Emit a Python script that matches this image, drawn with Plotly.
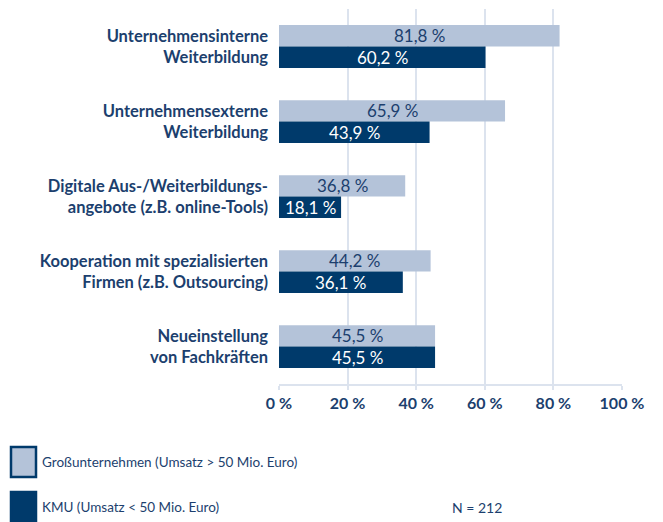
import plotly.graph_objects as go

categories = [
    "Unternehmensinterne<br>Weiterbildung",
    "Unternehmensexterne<br>Weiterbildung",
    "Digitale Aus-/Weiterbildungs-<br>angebote (z.B. online-Tools)",
    "Kooperation mit spezialisierten<br>Firmen (z.B. Outsourcing)",
    "Neueinstellung<br>von Fachkräften",
]
gross_values = [81.8, 65.9, 36.8, 44.2, 45.5]
kmu_values = [60.2, 43.9, 18.1, 36.1, 45.5]
series_names = ["Großunternehmen (Umsatz > 50 Mio. Euro)", "KMU (Umsatz < 50 Mio. Euro)"]
tick_vals = [0, 20, 40, 60, 80, 100]
tick_text = ["0 %", "20 %", "40 %", "60 %", "80 %", "100 %"]
note = "N = 212"

DARK = "#003a6b"
LIGHT = "#b4c3d9"
TXT = "#1c3f6e"
FONT = "Lato"

def fmt(v):
    return f"{v:.1f}".replace(".", ",") + " %"

fig = go.Figure()
fig.add_trace(go.Bar(
    y=categories, x=gross_values, orientation="h", name=series_names[0],
    marker=dict(color=LIGHT, line=dict(width=0)),
    showlegend=False, hoverinfo="skip",
))
fig.add_trace(go.Bar(
    y=categories, x=kmu_values, orientation="h", name=series_names[1],
    marker=dict(color=DARK, line=dict(width=0)),
    showlegend=False, hoverinfo="skip",
))

# value labels centred in the bars (annotations so text is not shrunk)
for cat, gv, kv in zip(categories, gross_values, kmu_values):
    fig.add_annotation(x=gv / 2, y=cat, text=fmt(gv), showarrow=False,
                       yshift=10.7, xanchor="center", yanchor="middle",
                       font=dict(size=17, color=TXT, family=FONT))
    fig.add_annotation(x=kv / 2, y=cat, text=fmt(kv), showarrow=False,
                       yshift=-10.7, xanchor="center", yanchor="middle",
                       font=dict(size=17, color="white", family=FONT))

# page body has an 8px margin; figure is sized so page coordinates match
fig.update_layout(
    width=655, height=514,
    margin=dict(l=271, r=41, t=1, b=138),
    paper_bgcolor="white", plot_bgcolor="white",
    barmode="group", bargap=0.43, bargroupgap=0,
    font=dict(family=FONT, color=TXT),
    xaxis=dict(
        range=[0, 100], tickvals=tick_vals, ticktext=tick_text,
        showgrid=True, gridcolor="#dce3ee", gridwidth=2,
        zeroline=False, showline=True, linecolor="#dce3ee", linewidth=2,
        ticks="outside", ticklen=4, tickcolor="#dce3ee", tickwidth=2,
        tickfont=dict(size=16, color=TXT, family=FONT, weight="bold"),
        fixedrange=True,
    ),
    yaxis=dict(
        autorange="reversed", showgrid=False, zeroline=False, showline=False,
        ticks="", ticklabelstandoff=10,
        tickfont=dict(size=16.5, color=TXT, family=FONT, weight="bold"),
        fixedrange=True,
    ),
)

def px_x(p):
    return (p - 279) / 343

def px_y(p):
    return (384 - p) / 375

legend_items = [(LIGHT, series_names[0], 462), (DARK, series_names[1], 507)]
for color, name, yc in legend_items:
    fig.add_shape(type="rect", xref="paper", yref="paper",
                  x0=px_x(11), x1=px_x(36),
                  y0=px_y(yc + 15), y1=px_y(yc - 15),
                  fillcolor=color, line=dict(color=DARK, width=2.5))
    fig.add_annotation(xref="paper", yref="paper",
                       x=px_x(40), y=px_y(yc),
                       text=name, showarrow=False, xanchor="left", yanchor="middle",
                       font=dict(size=13.5, color=TXT, family=FONT))
fig.add_annotation(xref="paper", yref="paper",
                   x=px_x(504), y=px_y(507),
                   text=note, showarrow=False, xanchor="right", yanchor="middle",
                   font=dict(size=14, color=TXT, family=FONT))

fig.write_html("out.html")
